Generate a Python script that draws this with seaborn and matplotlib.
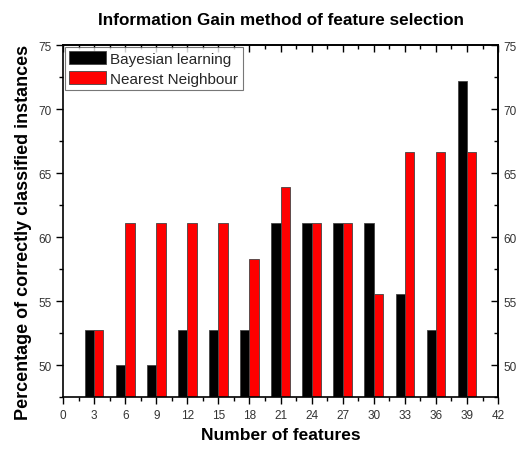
import numpy as np
import pandas as pd
import seaborn as sns
import matplotlib.pyplot as plt
from matplotlib.ticker import MultipleLocator, NullFormatter

features = [3, 6, 9, 12, 15, 18, 21, 24, 27, 30, 33, 36, 39]
bayesian = [52.78, 50.0, 50.0, 52.78, 52.78, 52.78, 61.11, 61.11, 61.11, 61.11, 55.56, 52.78, 72.22]
nearest = [52.78, 61.11, 61.11, 61.11, 61.11, 58.33, 63.89, 61.11, 61.11, 55.56, 66.67, 66.67, 66.67]

df = pd.DataFrame({"features": features * 2,
                   "value": bayesian + nearest,
                   "method": ["Bayesian learning"] * len(features) + ["Nearest Neighbour"] * len(features)})

sns.set_style("ticks")
plt.rcParams["font.family"] = ["Liberation Sans", "DejaVu Sans"]

fig = plt.figure(figsize=(5.21, 4.52), dpi=100)
plt.subplots_adjust(left=0.121, right=0.956, bottom=0.119, top=0.898)
ax = fig.add_subplot(1, 1, 1)

sns.barplot(data=df, x="features", y="value", hue="method", native_scale=True,
            palette=["black", "red"], saturation=1, width=0.6, edgecolor="#444444",
            linewidth=0.6, ax=ax, errorbar=None)

ax.set_xlim(0, 42)
ax.set_ylim(47.5, 75)

# bottom/left ticks point out, top/right point in (Origin style)
top = ax.secondary_xaxis("top")
right = ax.secondary_yaxis("right")
for a in (ax.xaxis, top.xaxis):
    a.set_major_locator(MultipleLocator(3))
    a.set_minor_locator(MultipleLocator(1.5))
for a in (ax.yaxis, right.yaxis):
    a.set_major_locator(MultipleLocator(5))
    a.set_minor_locator(MultipleLocator(2.5))
top.xaxis.set_major_formatter(NullFormatter())

ax.tick_params(which="both", direction="out", labelsize=8.5, labelcolor="#333333",
               color="black", width=1)
top.tick_params(which="both", direction="in", labeltop=False, color="black", width=1)
right.tick_params(which="both", direction="in", labelsize=8.5, labelcolor="#333333",
                  color="black", width=1, pad=4)
for a in (ax, top, right):
    a.tick_params(which="major", length=5)
    a.tick_params(which="minor", length=3)
for s in list(ax.spines.values()) + list(top.spines.values()) + list(right.spines.values()):
    s.set_linewidth(1.2)
    s.set_color("black")

ax.set_title("Information Gain method of feature selection", fontsize=12.3,
             fontweight="bold", pad=15, color="black")
ax.set_xlabel("Number of features", fontsize=12.5, fontweight="bold", color="black")
ax.set_ylabel("Percentage of correctly classified instances", fontsize=13,
              fontweight="bold", color="black")
ax.yaxis.set_label_coords(-0.072, 0.47)

leg = ax.legend(loc="upper left", fontsize=11, frameon=True, fancybox=False, edgecolor="#555555",
                handlelength=2.4, handleheight=0.9, borderaxespad=0.1, borderpad=0.3,
                labelspacing=0.35, handletextpad=0.3)
leg.get_frame().set_linewidth(0.8)

plt.savefig("out.png", dpi=100)
